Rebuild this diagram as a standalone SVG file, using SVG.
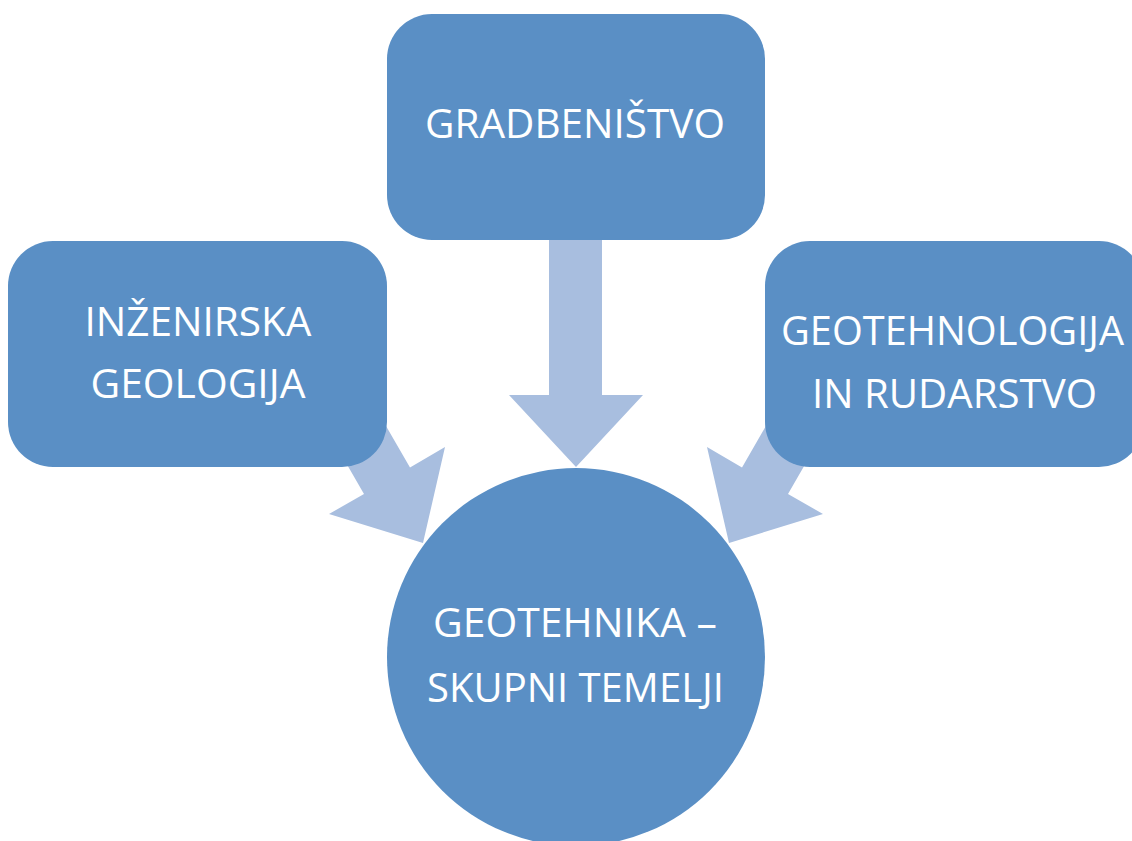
<svg xmlns="http://www.w3.org/2000/svg" width="1132" height="841" viewBox="0 0 1132 841">
  <style>
    .node { fill: #5A8FC5; }
    .arrow { fill: #A8BEDF; }
    .label { fill: #FFFFFF; font-family: "Open Sans", "Liberation Sans", Arial, sans-serif; font-size: 41px; text-anchor: middle; }
  </style>
  <rect width="1132" height="841" fill="#FFFFFF"/>

  <!-- block arrows pointing to the centre circle -->
  <g id="connectors">
    <polygon class="arrow" points="549,230 602,230 602,395 643,395 576,467 509,395 549,395"/>
    <polygon class="arrow" points="332.4,333.2 410,467.4 445,447 423,543 329,514 364,494 286.6,359.7"/>
    <polygon class="arrow" points="819.6,333.2 742,467.4 707,447 729,543 823,514 788,494 865.4,359.7"/>
  </g>

  <g id="node-gradbenistvo">
    <rect class="node" x="387" y="14" width="378" height="226" rx="45" ry="45"/>
    <text class="label" x="575" y="138" textLength="300" lengthAdjust="spacingAndGlyphs">GRADBENIŠTVO</text>
  </g>

  <g id="node-inzenirska-geologija">
    <rect class="node" x="8" y="241" width="379" height="226" rx="45" ry="45"/>
    <text class="label" x="198" y="336" textLength="227" lengthAdjust="spacingAndGlyphs">INŽENIRSKA</text>
    <text class="label" x="198" y="398" textLength="215" lengthAdjust="spacingAndGlyphs">GEOLOGIJA</text>
  </g>

  <g id="node-geotehnologija">
    <rect class="node" x="765" y="241" width="379" height="226" rx="45" ry="45"/>
    <text class="label" x="952.5" y="345" textLength="343" lengthAdjust="spacingAndGlyphs">GEOTEHNOLOGIJA</text>
    <text class="label" x="954.5" y="408" textLength="285" lengthAdjust="spacingAndGlyphs">IN RUDARSTVO</text>
  </g>

  <g id="node-geotehnika">
    <circle class="node" cx="576" cy="657" r="189"/>
    <text class="label" x="575" y="637" textLength="284" lengthAdjust="spacingAndGlyphs">GEOTEHNIKA –</text>
    <text class="label" x="575.5" y="702" textLength="297" lengthAdjust="spacingAndGlyphs">SKUPNI TEMELJI</text>
  </g>
</svg>
